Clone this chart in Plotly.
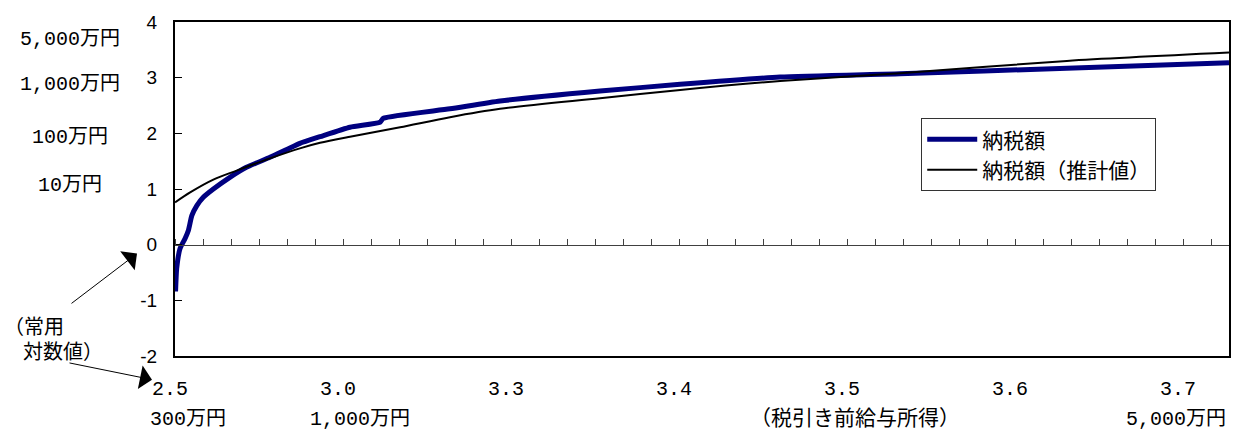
import plotly.graph_objects as go

# ---- data (x = category position along the income axis, y = common log of tax) ----
actual_x = [0.02, 0.06, 0.18, 0.36, 0.48, 0.60, 0.78, 1.01, 1.37, 1.96, 2.55, 3.39,
            3.99, 4.46, 5.18, 6.25, 7.32, 7.44, 9.82, 11.61, 15.18, 18.04, 21.61,
            25.89, 31.85, 37.64]
actual_y = [-0.84, -0.43, -0.07, 0.11, 0.26, 0.52, 0.70, 0.85, 1.00, 1.21, 1.39, 1.57,
            1.71, 1.82, 1.94, 2.11, 2.20, 2.27, 2.44, 2.58, 2.76, 2.88, 3.01,
            3.07, 3.17, 3.27]

est_x = [0.00, 0.54, 1.37, 2.20, 3.39, 4.46, 5.18, 6.25, 8.04, 9.82, 11.61, 15.18,
         18.04, 21.61, 25.89, 31.85, 37.64]
est_y = [0.76, 0.94, 1.17, 1.33, 1.55, 1.73, 1.83, 1.94, 2.11, 2.29, 2.44, 2.63,
         2.78, 2.94, 3.08, 3.30, 3.45]

series_names = ["納税額", "納税額（推計値）"]

x_tick_pos = [0, 6, 12, 18, 24, 30, 36]
x_tick_text = ["2.5", "3.0", "3.3", "3.4", "3.5", "3.6", "3.7"]

y_tick_pos = [-2, -1, 0, 1, 2, 3, 4]
y_tick_text = ["-2", "-1", "0", "1", "2", "3", "4"]

yen_rows = ["5,000万円", "1,000万円", "100万円", "10万円"]
yen_rows_y = [3.68, 2.88, 1.93, 1.06]

income_labels = ["300万円", "1,000万円", "（税引き前給与所得）", "5,000万円"]
income_labels_x = [0.0123, 0.1755, 0.645, 0.9497]

X_RANGE = [0, 37.64]

CJK = "Liberation Mono, Noto Sans CJK JP, sans-serif"
SANS = "Liberation Sans, Arial, sans-serif"

fig = go.Figure()
fig.add_trace(go.Scatter(x=actual_x, y=actual_y, mode="lines", name=series_names[0],
                         line=dict(color="#000080", width=5, shape="spline", smoothing=0.5)))
fig.add_trace(go.Scatter(x=est_x, y=est_y, mode="lines", name=series_names[1],
                         xaxis="x2",
                         line=dict(color="#000000", width=2, shape="spline", smoothing=0.8)))

annotations = []
for t, yy in zip(yen_rows, yen_rows_y):
    annotations.append(dict(text=t, xref="paper", yref="y", x=-0.0996, y=yy,
                            xanchor="center", yanchor="middle", showarrow=False,
                            font=dict(family=CJK, size=20, color="black")))
for i, (t, xx) in enumerate(zip(income_labels, income_labels_x)):
    annotations.append(dict(text=t, xref="paper", yref="paper", x=xx, y=-0.189,
                            xanchor="center", yanchor="middle", showarrow=False,
                            font=dict(family=CJK, size=21 if i == 2 else 20, color="black")))
annotations.append(dict(text="（常用", xref="paper", yref="paper", x=-0.164, y=0.0914,
                        xanchor="left", yanchor="middle", showarrow=False,
                        font=dict(family="Noto Sans CJK JP", size=20, color="black")))
annotations.append(dict(text="対数値）", xref="paper", yref="paper", x=-0.146, y=0.0177,
                        xanchor="left", yanchor="middle", showarrow=False,
                        font=dict(family="Noto Sans CJK JP", size=20, color="black")))
# arrows
annotations.append(dict(text="", xref="paper", yref="paper", x=(137 - 175) / 1054,
                        y=(356 - 252) / 339, ax=-67, ay=51, showarrow=True,
                        arrowhead=1, arrowsize=4, arrowwidth=1, arrowcolor="black", standoff=0))
annotations.append(dict(text="", xref="paper", yref="paper", x=(152 - 175) / 1054,
                        y=(356 - 380) / 339, ax=-84, ay=-17, showarrow=True,
                        arrowhead=1, arrowsize=4, arrowwidth=1, arrowcolor="black", standoff=0))

fig.update_layout(
    width=1245, height=435,
    margin=dict(l=175, r=16, t=17, b=79),
    paper_bgcolor="white", plot_bgcolor="white",
    font=dict(family=SANS, size=18, color="black"),
    showlegend=True,
    legend=dict(x=0.708, y=0.712, xanchor="left", yanchor="top",
                bordercolor="#333333", borderwidth=1, bgcolor="white",
                font=dict(family="Noto Sans CJK JP", size=21, color="black"),
                itemwidth=50, tracegroupgap=0),
    xaxis=dict(range=X_RANGE, showgrid=False, zeroline=False,
               showline=True, linecolor="black", linewidth=2, mirror=True,
               ticks="", tickmode="array", tickvals=x_tick_pos, ticktext=x_tick_text,
               tickfont=dict(family="Liberation Mono, monospace", size=20),
               ticklabelstandoff=13, ticklabelshift=-5),
    xaxis2=dict(range=X_RANGE, overlaying="x", anchor="free", position=1 / 3,
                side="top", showgrid=False, zeroline=False, showline=True,
                linecolor="#404040", linewidth=1, ticks="outside", ticklen=6,
                tickcolor="#404040", tickmode="linear", tick0=0, dtick=1,
                showticklabels=False),
    yaxis=dict(range=[-2, 4], tickmode="array", tickvals=y_tick_pos, ticktext=y_tick_text,
               showgrid=False, zeroline=False,
               showline=True, linecolor="black", linewidth=2, mirror=True,
               ticks="inside", ticklen=7, tickcolor="black",
               tickfont=dict(family=SANS, size=19), ticklabelstandoff=12),
    annotations=annotations,
)

fig.write_html("out.html", config={"displayModeBar": False},
               post_script="document.body.style.margin='0px';")
